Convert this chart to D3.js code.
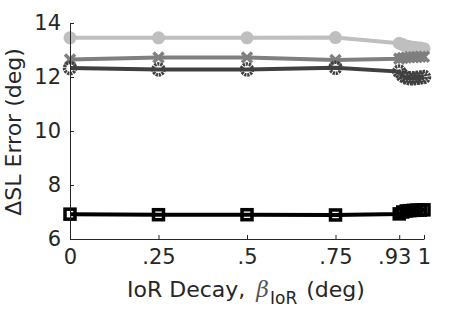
<!DOCTYPE html>
<html><head><meta charset="utf-8">
<script src="https://cdn.jsdelivr.net/npm/d3@7"></script>
<style>body{margin:0;background:#fff}svg{display:block}text{font-family:"DejaVu Sans",sans-serif;fill:#262626}</style>
</head><body><svg id="c" width="469" height="312"></svg>
<script>
const xValues = [0, 0.25, 0.5, 0.75, 0.93, 0.94, 0.95, 0.96, 0.97, 0.98, 0.99, 1];
const seriesLight = [13.45, 13.45, 13.45, 13.46, 13.25, 13.2, 13.15, 13.12, 13.1, 13.08, 13.07, 13.05];
const seriesMid   = [12.65, 12.72, 12.72, 12.63, 12.68, 12.7, 12.72, 12.73, 12.73, 12.74, 12.75, 12.75];
const seriesDark  = [12.33, 12.28, 12.28, 12.34, 12.2, 12.05, 11.98, 11.95, 11.95, 11.97, 11.98, 12.0];
const seriesBlack = [6.92, 6.9, 6.9, 6.89, 6.93, 7.0, 7.04, 7.05, 7.06, 7.07, 7.07, 7.08];
const xTicks = [0, 0.25, 0.5, 0.75, 0.93, 1];
const xTickLabels = ["0", ".25", ".5", ".75", ".93", "1"];
const yTicks = [6, 8, 10, 12, 14];

const svg = d3.select("#c");
const x = d3.scaleLinear().domain([0, 1]).range([70, 424]);
const y = d3.scaleLinear().domain([6, 14]).range([239, 23]);

const series = [
  {v: seriesLight, color: "#bfbfbf", m: "circle"},
  {v: seriesMid, color: "#7f7f7f", m: "x"},
  {v: seriesDark, color: "#404040", m: "ring"},
  {v: seriesBlack, color: "#000000", m: "square"}
];
const line = d3.line().x((d, i) => x(xValues[i])).y(d => y(d));
series.forEach(s => {
  svg.append("path").attr("d", line(s.v)).attr("fill", "none").attr("stroke", s.color).attr("stroke-width", 4);
  const g = svg.append("g");
  s.v.forEach((d, i) => {
    const cx = x(xValues[i]), cy = y(d);
    if (s.m === "circle") g.append("circle").attr("cx", cx).attr("cy", cy).attr("r", 6.5).attr("fill", s.color);
    else if (s.m === "x") g.append("path").attr("d", `M${cx-5},${cy-5}L${cx+5},${cy+5}M${cx-5},${cy+5}L${cx+5},${cy-5}`).attr("stroke", s.color).attr("stroke-width", 3.5);
    else if (s.m === "ring") g.append("circle").attr("cx", cx).attr("cy", cy).attr("r", 5.5).attr("fill", "none").attr("stroke", s.color).attr("stroke-width", 3.5).attr("stroke-dasharray", "2.2 0.8");
    else g.append("rect").attr("x", cx-5).attr("y", cy-5).attr("width", 10).attr("height", 10).attr("fill", "none").attr("stroke", s.color).attr("stroke-width", 3.5);
  });
});

// axes
const xAxis = d3.axisBottom(x).tickValues(xTicks).tickFormat((d, i) => xTickLabels[i]).tickSizeInner(-4).tickSizeOuter(0).tickPadding(10);
const gx = svg.append("g").attr("transform", "translate(0,239)").call(xAxis);
gx.selectAll(".tick text").attr("dx", d => d === 0.93 ? -5 : 0);
const yAxis = d3.axisLeft(y).tickValues(yTicks).tickSizeInner(-4).tickSizeOuter(0).tickPadding(9);
const gy = svg.append("g").attr("transform", "translate(70,0)").call(yAxis);
[gx, gy].forEach(g => {
  g.select(".domain").attr("stroke", "#262626").attr("stroke-width", 1);
  g.selectAll(".tick line").attr("stroke", "#262626");
  g.selectAll("text").attr("font-size", 21).attr("font-family", "DejaVu Sans").attr("fill", "#262626");
});

// x label
const xl = svg.append("text").attr("x", 127).attr("y", 297).attr("text-anchor", "start").attr("font-size", 22);
xl.append("tspan").text("IoR Decay, ");
xl.append("tspan").text("β").attr("font-style", "italic").attr("font-family", "DejaVu Serif").attr("fill", "#555").attr("dx", 4);
xl.append("tspan").text("IoR").attr("font-size", 17).attr("dy", 7).attr("dx", 1);
xl.append("tspan").text(" (deg)").attr("dy", -7).attr("dx", 2);

// y label
svg.append("text").attr("transform", "translate(21,132) rotate(-90)").attr("text-anchor", "middle").attr("font-size", 22).text("ΔSL Error (deg)");
</script></body></html>
